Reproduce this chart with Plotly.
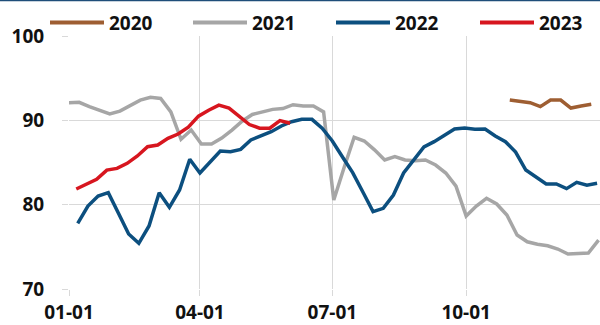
import pandas as pd
import plotly.graph_objects as go

# Weekly index values, positioned by day-of-year on a common 2023 calendar axis
base = pd.Timestamp("2023-01-01")

# 2020: only year-end readings available
days_2020 = [303 + 7 * i for i in range(9)]
vals_2020 = [92.4, 92.26, 92.09, 91.62, 92.4, 92.4, 91.46, 91.7, 91.9]

days_2021 = [7 * i for i in range(53)]
vals_2021 = [92.09, 92.14, 91.62, 91.23, 90.75, 91.1, 91.7, 92.4, 92.73, 92.6,
             91.0, 87.75, 88.85, 87.2, 87.2, 87.9, 88.85, 89.9, 90.7, 90.95,
             91.3, 91.4, 91.85, 91.7, 91.7, 91.0, 80.55, 84.35, 87.99, 87.55,
             86.5, 85.3, 85.7, 85.3, 85.2, 85.3, 84.7, 83.75, 82.2, 78.65,
             79.84, 80.75, 80.08, 78.77, 76.4, 75.6, 75.3, 75.13, 74.74, 74.15,
             74.23, 74.27, 75.8]

days_2022 = [6 + 7 * i for i in range(52)]
vals_2022 = [77.79, 79.84, 81.03, 81.42, 78.98, 76.52, 75.42, 77.47, 81.42, 79.69,
             81.74, 85.38, 83.75, 85.1, 86.36, 86.28, 86.56, 87.67, 88.14, 88.65,
             89.33, 89.84, 90.12, 90.12, 89.06, 87.55, 85.65, 83.8, 81.5, 79.17,
             79.57, 81.15, 83.75, 85.3, 86.84, 87.47, 88.2, 88.97, 89.08, 88.94,
             88.97, 88.14, 87.47, 86.24, 84.11, 83.32, 82.45, 82.45, 81.9, 82.65,
             82.3, 82.53]

days_2023 = [5 + 7 * i for i in range(22)]
vals_2023 = [81.86, 82.45, 83.0, 84.1, 84.3, 84.9, 85.77, 86.87, 87.07, 87.87,
             88.38, 89.2, 90.5, 91.2, 91.8, 91.45, 90.45, 89.5, 89.06, 89.06,
             89.96, 89.65]

series_names = ["2020", "2021", "2022", "2023"]
series_days = [days_2020, days_2021, days_2022, days_2023]
series_vals = [vals_2020, vals_2021, vals_2022, vals_2023]
series_colors = ["#9E5E32", "#A6A6A6", "#0C4F7F", "#D7161F"]

tick_dates = ["2023-01-01", "2023-04-01", "2023-07-01", "2023-10-01"]
tick_text = ["01-01", "04-01", "07-01", "10-01"]

W, H = 600, 325
L, R, T, B = 69, 0, 36, 36
PW, PH = W - L - R, H - T - B

FONT = "Open Sans"
grid = "#D9D9D9"

fig = go.Figure()
# Gray first so the other years draw on top
order = [1, 0, 2, 3]
for i in order:
    x = [base + pd.Timedelta(days=d) for d in series_days[i]]
    fig.add_trace(go.Scatter(
        x=x, y=series_vals[i], mode="lines", name=series_names[i],
        line=dict(color=series_colors[i], width=3.5),
        showlegend=False,
    ))


def px_x(px):
    return (px - L) / PW


def px_y(py):
    return (H - B - py) / PH


shapes = [
    # thin rule along the top edge
    dict(type="line", xref="paper", yref="paper",
         x0=px_x(0), x1=px_x(W), y0=px_y(0.5), y1=px_y(0.5),
         line=dict(color="#1F4E79", width=1.5)),
]
annotations = []
legend_x = [50, 193, 336, 480]
for i, lx in enumerate(legend_x):
    shapes.append(dict(type="line", xref="paper", yref="paper",
                       x0=px_x(lx), x1=px_x(lx + 54), y0=px_y(22.5), y1=px_y(22.5),
                       line=dict(color=series_colors[i], width=4)))
    annotations.append(dict(xref="paper", yref="paper",
                            x=px_x(lx + 57), y=px_y(22.5),
                            xanchor="left", yanchor="middle", showarrow=False,
                            text="<b>%s</b>" % series_names[i],
                            font=dict(family=FONT, size=19, color="#111111")))

fig.update_layout(
    width=W, height=H,
    margin=dict(l=L, r=R, t=T, b=B, pad=0),
    paper_bgcolor="white", plot_bgcolor="white",
    shapes=shapes, annotations=annotations,
    font=dict(family=FONT, size=19, color="#111111"),
)
fig.update_xaxes(
    type="date",
    range=[base, base + pd.Timedelta(days=365)],
    tickvals=tick_dates, ticktext=["<b>%s</b>" % t for t in tick_text],
    showgrid=True, gridcolor=grid, gridwidth=1,
    ticks="outside", ticklen=6, tickcolor=grid,
    showline=False, zeroline=False,
    tickfont=dict(family=FONT, size=19, color="#111111"),
)
fig.update_yaxes(
    range=[70, 100],
    tickvals=[70, 80, 90, 100], ticktext=["<b>70</b>", "<b>80</b>", "<b>90</b>", "<b>100</b>"],
    showgrid=True, gridcolor=grid, gridwidth=1,
    ticks="outside", ticklen=6, tickcolor=grid,
    showline=False, zeroline=False,
    ticklabelstandoff=14,
    tickfont=dict(family=FONT, size=19, color="#111111"),
)

fig.write_html("out.html", config=dict(displayModeBar=False))
